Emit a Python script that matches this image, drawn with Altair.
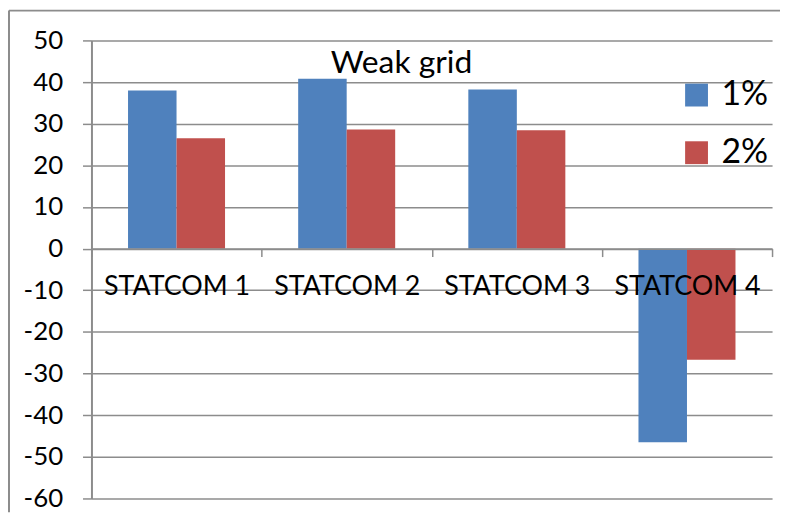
import altair as alt
import pandas as pd

categories = ["STATCOM 1", "STATCOM 2", "STATCOM 3", "STATCOM 4"]
series = ["1%", "2%"]
pct1 = [38.0, 40.8, 38.2, -46.5]
pct2 = [26.5, 28.6, 28.4, -26.7]
colors = ["#4F81BD", "#C0504D"]
y_ticks = list(range(-60, 51, 10))
title_text = "Weak grid"

rows = []
for c, a, b in zip(categories, pct1, pct2):
    rows.append({"cat": c, "series": series[0], "value": a})
    rows.append({"cat": c, "series": series[1], "value": b})
df = pd.DataFrame(rows)

FONT = "Lato"
GRID = "#8c8c8c"
W, H = 685, 461

bars = alt.Chart(df).mark_bar().encode(
    x=alt.X(
        "cat:N",
        sort=categories,
        title=None,
        scale=alt.Scale(paddingInner=0, paddingOuter=0),
        axis=alt.Axis(
            orient="bottom",
            offset=-(H * 60 / 110),
            domainColor=GRID,
            domainWidth=2,
            tickColor=GRID,
            tickWidth=1.5,
            tickSize=8,
            tickBand="extent",
            labelAngle=0,
            labelFont=FONT,
            labelFontSize=27,
            labelColor="black",
            labelPadding=17,
            grid=False,
            zindex=1,
        ),
    ),
    xOffset=alt.XOffset(
        "series:N", sort=series,
        scale=alt.Scale(paddingInner=0, paddingOuter=0.754),
    ),
    y=alt.Y(
        "value:Q",
        title=None,
        scale=alt.Scale(domain=[-60, 50], nice=False, zero=False),
        axis=alt.Axis(
            values=y_ticks,
            labelExpr="'' + datum.value",
            grid=True,
            gridColor=GRID,
            gridWidth=1.5,
            domainColor=GRID,
            domainWidth=2,
            tickColor=GRID,
            tickWidth=1.5,
            tickSize=9,
            labelFont=FONT,
            labelFontSize=26,
            labelColor="black",
            labelPadding=20,
            zindex=0,
        ),
    ),
    color=alt.Color(
        "series:N",
        sort=series,
        scale=alt.Scale(domain=series, range=colors),
        legend=alt.Legend(
            title=None,
            orient="none",
            legendX=592,
            legendY=38,
            symbolType="square",
            symbolSize=529,
            symbolStrokeWidth=0,
            labelFont=FONT,
            labelFontSize=34,
            labelColor="black",
            labelOffset=8,
            rowPadding=24,
            padding=0,
        ),
    ),
)

title = alt.Chart(pd.DataFrame({"t": [title_text]})).mark_text(
    font=FONT, fontSize=32, color="black", baseline="alphabetic", align="center"
).encode(text="t:N", x=alt.value(312), y=alt.value(33))

frame_left = alt.Chart(pd.DataFrame({"a": [0]})).mark_rule(color=GRID, strokeWidth=2).encode(
    x=alt.value(-83), y=alt.value(-30), y2=alt.value(H + 14)
)
frame_top = alt.Chart(pd.DataFrame({"a": [0]})).mark_rule(color=GRID, strokeWidth=2).encode(
    x=alt.value(-83), x2=alt.value(W + 10), y=alt.value(-30)
)

chart = alt.layer(bars, title, frame_left, frame_top).properties(
    width=W,
    height=H,
    autosize=alt.AutoSizeParams(type="none"),
    padding={"left": 84, "top": 31, "right": 8, "bottom": 14},
).configure_view(stroke=None)

chart.save("out.html", embed_options={"renderer": "svg", "actions": False})
